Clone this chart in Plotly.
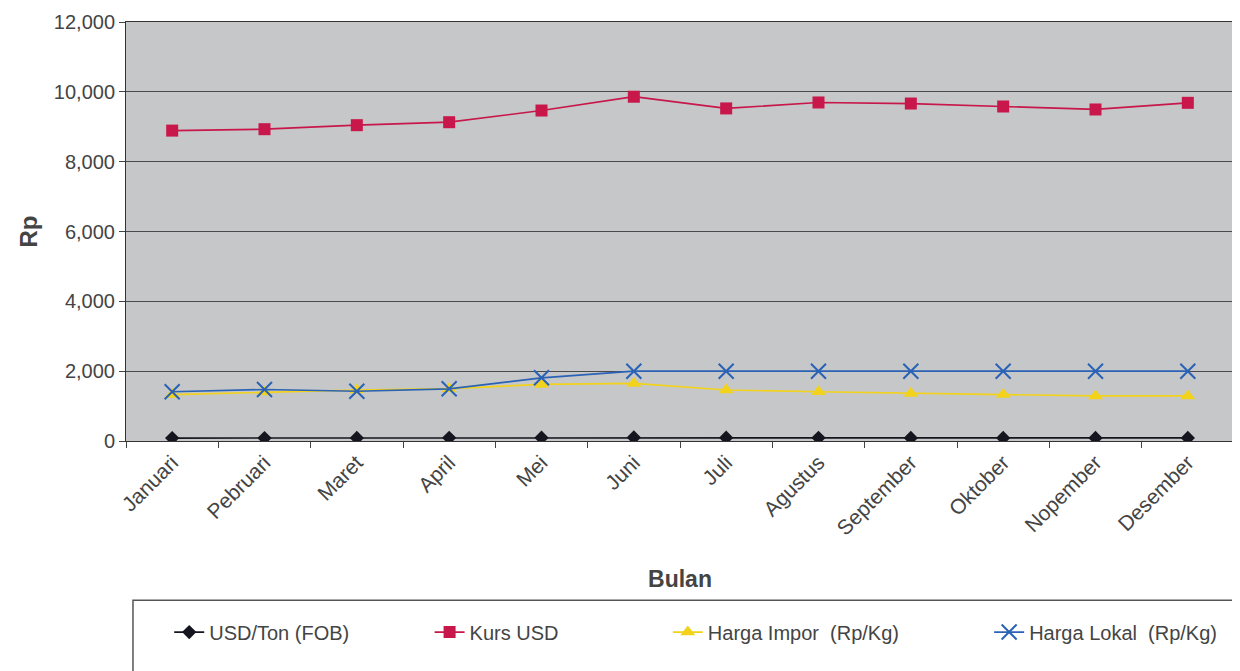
import plotly.graph_objects as go

bulan = ["Januari", "Pebruari", "Maret", "April", "Mei", "Juni", "Juli",
         "Agustus", "September", "Oktober", "Nopember", "Desember"]
usd_ton = [85, 85, 88, 92, 95, 100, 95, 92, 88, 88, 88, 88]
kurs_usd = [8890, 8930, 9045, 9130, 9465, 9860, 9525, 9695, 9665, 9580, 9495, 9685]
harga_impor = [1330, 1400, 1460, 1500, 1620, 1650, 1460, 1410, 1360, 1330, 1290, 1290]
harga_lokal = [1410, 1475, 1425, 1495, 1810, 2000, 2000, 2000, 2000, 2000, 2000, 2000]

FONT = "Liberation Sans, Arial, sans-serif"

fig = go.Figure()
series = [
    ("USD/Ton (FOB)", usd_ton, "#15151f", dict(symbol="diamond", size=11), "legend"),
    ("Kurs USD", kurs_usd, "#c8174a", dict(symbol="square", size=12), "legend2"),
    ("Harga Impor\u00a0 (Rp/Kg)", harga_impor, "#f2d21a", dict(symbol="triangle-up", size=13), "legend3"),
    ("Harga Lokal\u00a0 (Rp/Kg)", harga_lokal, "#2a62b5", dict(symbol="x-thin-open", size=15, line=dict(width=2, color="#2a62b5")), "legend4"),
]
for name, vals, col, mk, lg in series:
    m = dict(color=col, **mk)
    fig.add_trace(go.Scatter(x=bulan, y=vals, name=name, mode="lines+markers", showlegend=True,
                             line=dict(color=col, width=1.7), marker=m, legend=lg))

legend_common = dict(orientation="h", yanchor="middle", y=-0.456, xanchor="left",
                     bgcolor="rgba(0,0,0,0)", borderwidth=0,
                     font=dict(family=FONT, size=20, color="#444"))
fig.update_layout(
    width=1240, height=671, showlegend=True,
    paper_bgcolor="white", plot_bgcolor="#c6c7c8",
    margin=dict(l=118, r=14, t=14, b=238),
    font=dict(family=FONT, color="#444"),
    legend=dict(x=0.039, **legend_common),
    legend2=dict(x=0.274, **legend_common),
    legend3=dict(x=0.489, **legend_common),
    legend4=dict(x=0.779, **legend_common),
    xaxis=dict(
        type="category", range=[-0.5, 11.5], tickson="boundaries", automargin=False,
        ticks="outside", ticklen=6, tickcolor="#444", tickangle=-45,
        showgrid=False, showline=True, linecolor="#333", linewidth=1, mirror=True,
        tickfont=dict(family=FONT, size=21, color="#444"),
        title=dict(text="<b>Bulan</b>", font=dict(family=FONT, size=23, color="#444"), standoff=32),
    ),
    yaxis=dict(
        range=[0, 12000], dtick=2000, tickformat=",", automargin=False,
        ticks="outside", ticklen=6, tickcolor="#444",
        showgrid=True, gridcolor="#4a4a4a", gridwidth=1,
        showline=True, linecolor="#333", linewidth=1, mirror=True, zeroline=False,
        tickfont=dict(family=FONT, size=20, color="#444"),
        title=dict(text="<b>Rp</b>", font=dict(family=FONT, size=24, color="#444"), standoff=9),
    ),
    shapes=[dict(type="rect", xref="paper", yref="paper",
                 x0=0.0063, x1=1.02, y0=-0.38, y1=-0.60,
                 line=dict(color="#555", width=1.5), fillcolor="rgba(0,0,0,0)", layer="below")],
)

fig.write_html("out.html")
